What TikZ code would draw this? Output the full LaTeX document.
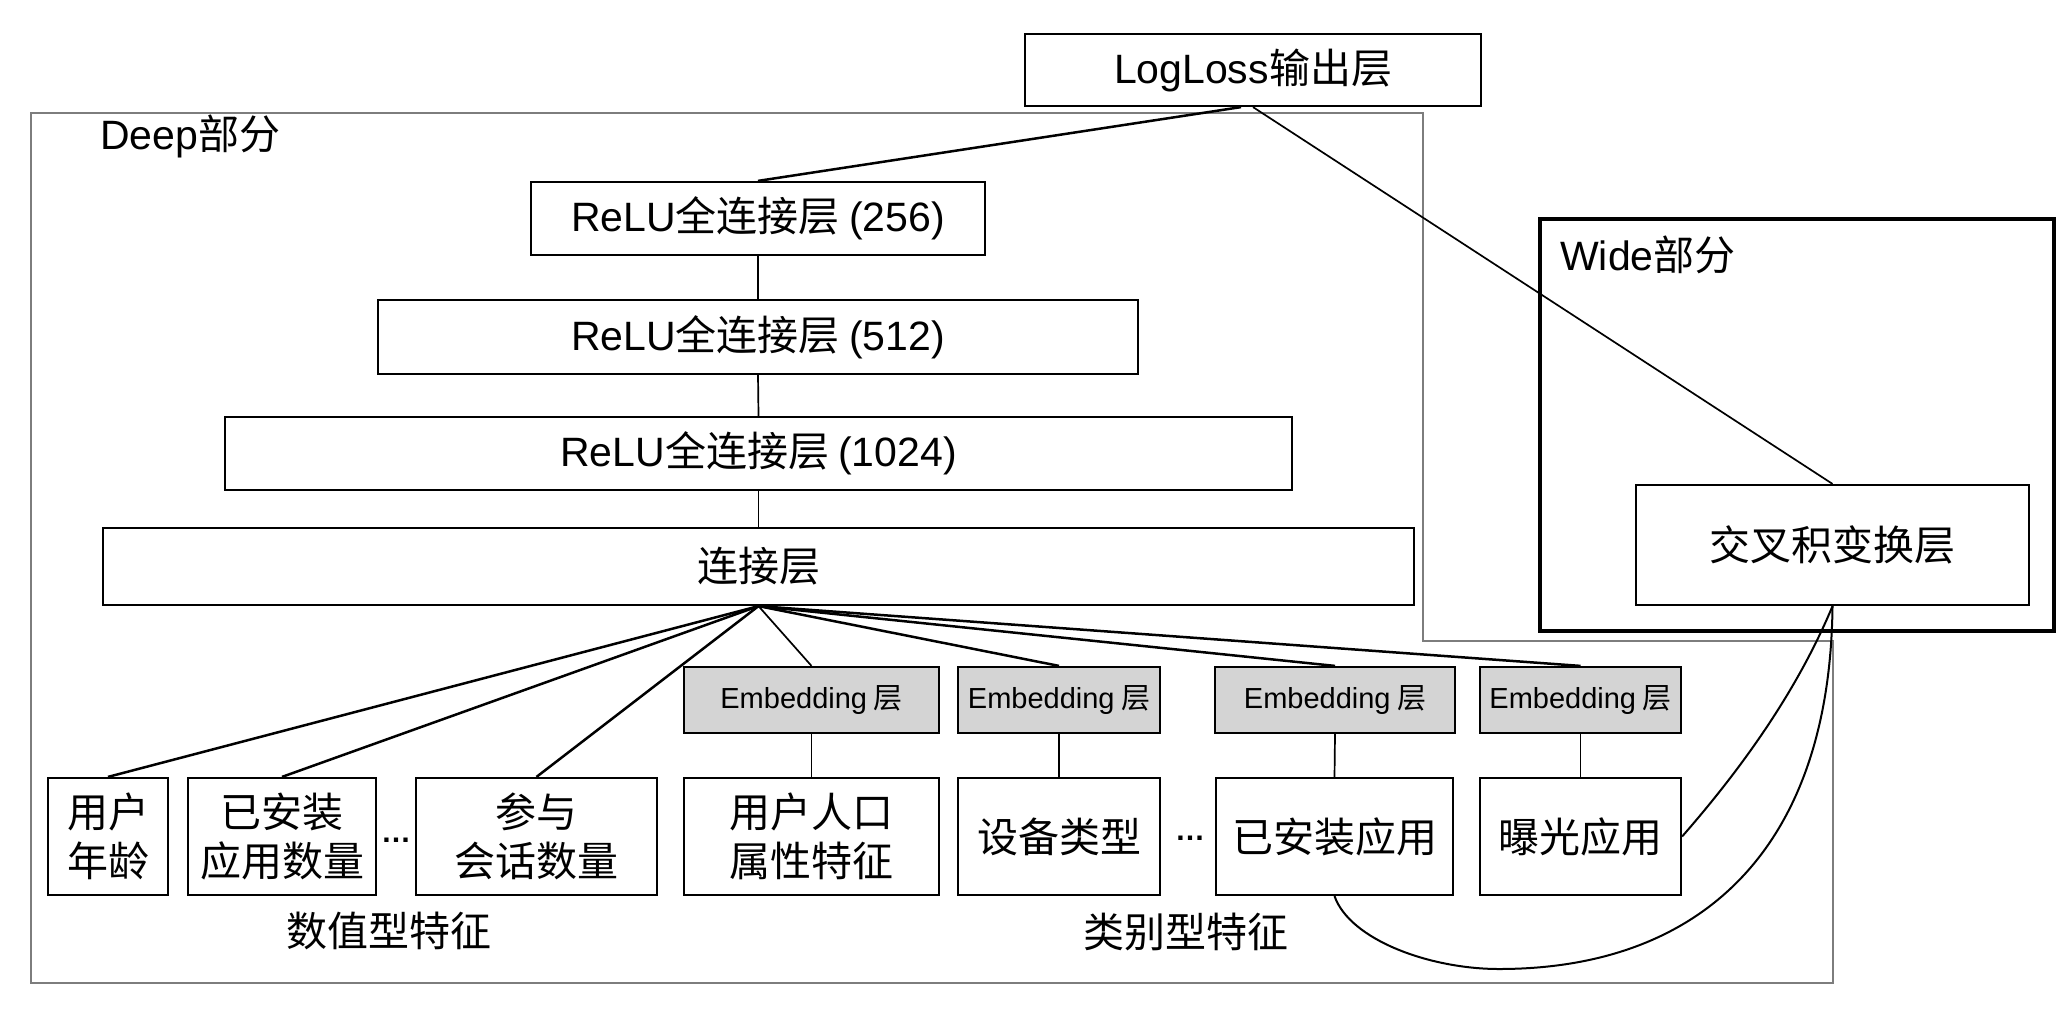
\documentclass[tikz,border=0pt]{standalone}
\usepackage{fontspec}
\setmainfont{Noto Sans CJK SC}
\newfontfamily\lat{Liberation Sans}
\usetikzlibrary{calc}
\definecolor{embgray}{RGB}{212,212,212}
\definecolor{deepgray}{RGB}{125,125,125}
\begin{document}
\begin{tikzpicture}[x=1pt,y=-1pt,
  box/.style={draw=black, line width=2.2pt, fill=white, inner sep=0pt, font=\fontsize{41}{49}\selectfont, align=center},
  emb/.style={box, fill=embgray, font=\fontsize{29}{32}\selectfont},
  conn/.style={line width=2.5pt},
  thinline/.style={line width=1.7pt},
  dotslbl/.style={inner sep=0pt, font=\lat\bfseries\fontsize{30}{30}\selectfont},
  lbl/.style={inner sep=0pt, font=\fontsize{41}{49}\selectfont}]
\useasboundingbox (0,0) rectangle (2060,1023);
\fill[white] (0,0) rectangle (2060,1023);
% group outlines
\draw[deepgray, line width=1.8pt] (31,113) -- (1423,113) -- (1423,641) -- (1833,641) -- (1833,983) -- (31,983) -- cycle;
\draw[line width=4.5pt] (1540,219) rectangle (2054,631);
\node[lbl, anchor=west] (deeplbl) at (100,136) {{\lat Deep}部分};
\node[lbl, anchor=west] (widelbl) at (1560,255) {{\lat Wide}部分};
% layers
\node[box, minimum width=456pt, minimum height=72pt] (log) at (1253,70) {{\lat LogLoss}输出层};
\node[box, minimum width=454pt, minimum height=73pt] (r256) at (758,218.5) {{\lat ReLU}全连接层 {\lat (256)}};
\node[box, minimum width=760pt, minimum height=74pt] (r512) at (758,337) {{\lat ReLU}全连接层 {\lat (512)}};
\node[box, minimum width=1067pt, minimum height=73pt] (r1024) at (758.5,453.5) {{\lat ReLU}全连接层 {\lat (1024)}};
\node[box, minimum width=1311pt, minimum height=77pt] (concat) at (758.5,566.5) {连接层};
\node[box, minimum width=393pt, minimum height=120pt] (cross) at (1832.5,545) {交叉积变换层};
% embeddings
\node[emb, minimum width=255pt, minimum height=66pt] (e1) at (811.5,700) {{\lat Embedding} 层};
\node[emb, minimum width=202pt, minimum height=66pt] (e2) at (1059,700) {{\lat Embedding} 层};
\node[emb, minimum width=240pt, minimum height=66pt] (e3) at (1335,700) {{\lat Embedding} 层};
\node[emb, minimum width=201pt, minimum height=66pt] (e4) at (1580.5,700) {{\lat Embedding} 层};
% features
\node[box, minimum width=120pt, minimum height=117pt] (b1) at (108,836.5) {用户\\年龄};
\node[box, minimum width=188pt, minimum height=117pt] (b2) at (282,836.5) {已安装\\应用数量};
\node[box, minimum width=241pt, minimum height=117pt] (b3) at (536.5,836.5) {参与\\会话数量};
\node[box, minimum width=255pt, minimum height=117pt] (b4) at (811.5,836.5) {用户人口\\属性特征};
\node[box, minimum width=202pt, minimum height=117pt] (b5) at (1059,836.5) {设备类型};
\node[box, minimum width=237pt, minimum height=117pt] (b6) at (1334.5,836.5) {已安装应用};
\node[box, minimum width=201pt, minimum height=117pt] (b7) at (1580.5,836.5) {曝光应用};
\node[dotslbl] (dots1) at (396,840) {…};
\node[dotslbl] (dots2) at (1190,838) {…};
\node[lbl] (numlbl) at (389,931) {数值型特征};
\node[lbl] (catlbl) at (1186,932) {类别型特征};
% connectors
\draw[conn] ([xshift=-12pt]log.south) -- (r256.north);
\draw[thinline] (log.south) -- (cross.north);
\draw[thinline] (r256.south) -- (r512.north);
\draw[thinline] (r512.south) -- (r1024.north);
\draw[thinline] (r1024.south) -- (concat.north);
\draw[conn] (concat.south) -- (b1.north);
\draw[conn] (concat.south) -- (b2.north);
\draw[conn] (concat.south) -- (b3.north);
\draw[thinline] (concat.south) -- (e1.north);
\draw[conn] (concat.south) -- (e2.north);
\draw[conn] (concat.south) -- (e3.north);
\draw[conn] (concat.south) -- (e4.north);
\draw[thinline] (e1.south) -- (b4.north);
\draw[thinline] (e2.south) -- (b5.north);
\draw[thinline] (e3.south) -- (b6.north);
\draw[thinline] (e4.south) -- (b7.north);
\draw[line width=2pt] (b7.east) .. controls (1749,760) and (1800,684) .. (cross.south);
\draw[line width=2pt] (b6.south) .. controls (1350,940) and (1430,969) .. (1499,969) .. controls (1700,969) and (1830,850) .. (cross.south);
\end{tikzpicture}
\end{document}
